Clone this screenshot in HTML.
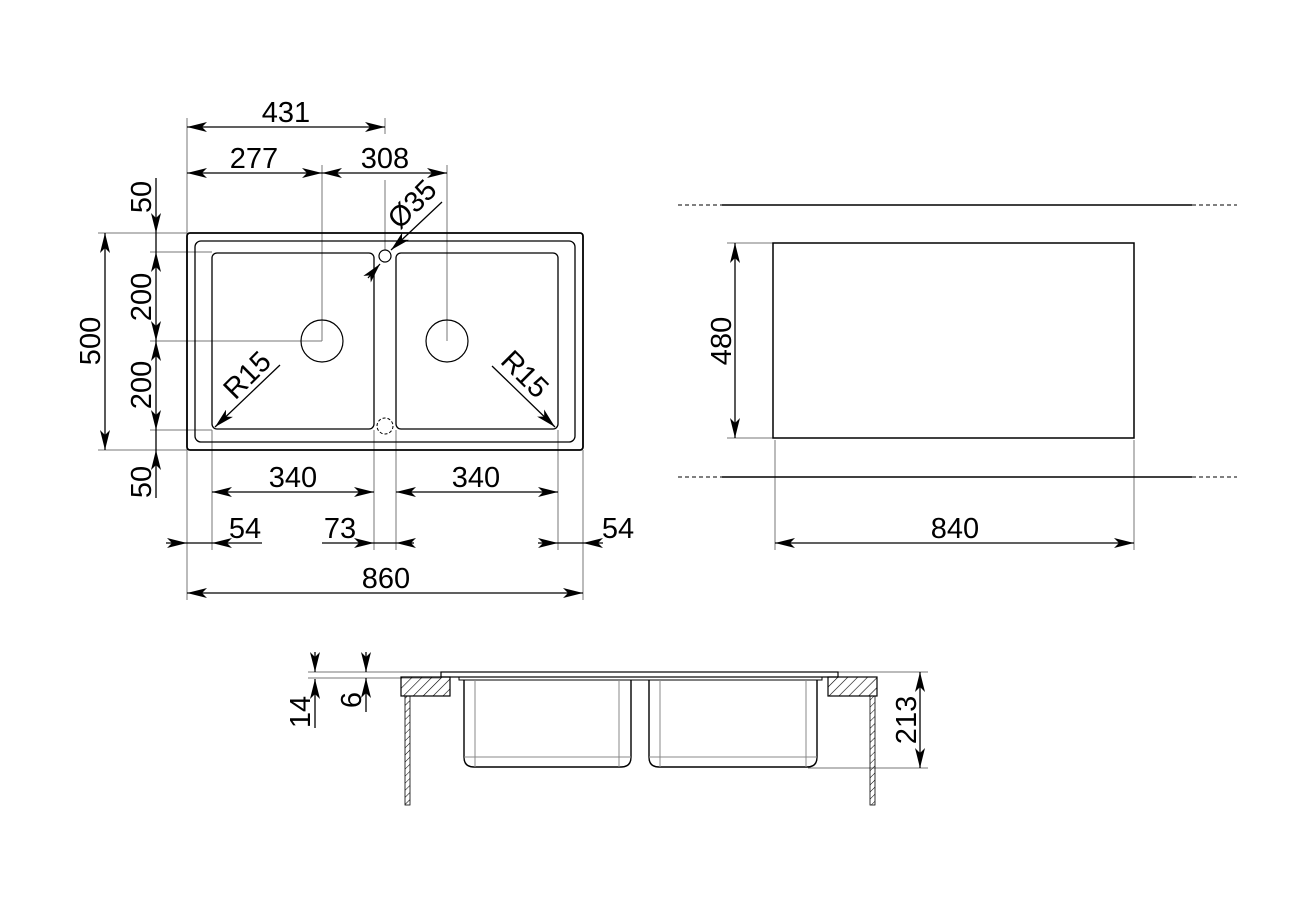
<!DOCTYPE html>
<html><head><meta charset="utf-8"><style>
html,body{margin:0;padding:0;background:#fff;}
svg{display:block;}
text{font-family:"Liberation Sans",Arial,sans-serif;font-size:29px;fill:#000;}
</style></head><body>
<svg width="1300" height="900" viewBox="0 0 1300 900" xmlns="http://www.w3.org/2000/svg">
<defs>
<marker id="a" viewBox="0 0 20 10" refX="20" refY="5" markerWidth="20" markerHeight="10" markerUnits="userSpaceOnUse" orient="auto-start-reverse">
<path d="M0,0 L20,5 L0,10 L5,5 Z" fill="#000"/>
</marker>
<pattern id="h" width="7" height="7" patternUnits="userSpaceOnUse" patternTransform="rotate(45)">
<line x1="0" y1="0" x2="0" y2="7" stroke="#000" stroke-width="1.2"/>
</pattern>
<pattern id="w" width="5" height="5" patternUnits="userSpaceOnUse" patternTransform="rotate(45)">
<line x1="0" y1="0" x2="0" y2="5" stroke="#000" stroke-width="1"/>
</pattern>
</defs>

<g stroke="#777" stroke-width="1" fill="none">
<line x1="187" y1="118" x2="187" y2="600"/>
<line x1="385" y1="118" x2="385" y2="134"/>
<line x1="322" y1="165" x2="322" y2="341"/>
<line x1="447" y1="165" x2="447" y2="341"/>
<line x1="385" y1="180" x2="385" y2="250"/>
<line x1="150" y1="341" x2="322" y2="341"/>
<line x1="98" y1="233" x2="187" y2="233"/>
<line x1="98" y1="450" x2="187" y2="450"/>
<line x1="150" y1="252" x2="212" y2="252"/>
<line x1="150" y1="430" x2="212" y2="430"/>
<line x1="212" y1="430" x2="212" y2="550"/>
<line x1="374" y1="430" x2="374" y2="550"/>
<line x1="396" y1="430" x2="396" y2="550"/>
<line x1="558" y1="430" x2="558" y2="550"/>
<line x1="583" y1="450" x2="583" y2="600"/>
<line x1="727" y1="243" x2="773" y2="243"/>
<line x1="727" y1="438" x2="773" y2="438"/>
<line x1="775" y1="440" x2="775" y2="550"/>
<line x1="1134" y1="440" x2="1134" y2="550"/>
<line x1="308" y1="672" x2="441" y2="672"/>
<line x1="308" y1="678" x2="441" y2="678"/>
<line x1="838" y1="672" x2="928" y2="672"/>
<line x1="808" y1="768" x2="928" y2="768"/>
</g>

<g stroke="#000" fill="none">
<rect x="187" y="233" width="396" height="217" rx="3" stroke-width="1.8"/>
<rect x="195" y="241" width="380" height="201" rx="6" stroke-width="1.3"/>
<rect x="212" y="253" width="162" height="176" rx="5" stroke-width="1.3"/>
<rect x="396" y="253" width="162" height="176" rx="5" stroke-width="1.3"/>
<circle cx="385" cy="256" r="6" stroke-width="1.2"/>
<circle cx="322" cy="341" r="21" stroke-width="1.2"/>
<circle cx="447" cy="341" r="21" stroke-width="1.2"/>
<circle cx="385" cy="426" r="8" stroke-width="1" stroke-dasharray="3,2"/>
</g>

<g stroke="#000" stroke-width="1.3" fill="none">
<line x1="187" y1="127" x2="385" y2="127" marker-start="url(#a)" marker-end="url(#a)"/>
<line x1="187" y1="173" x2="322" y2="173" marker-start="url(#a)" marker-end="url(#a)"/>
<line x1="322" y1="173" x2="447" y2="173" marker-start="url(#a)" marker-end="url(#a)"/>
<line x1="442" y1="202" x2="391" y2="250" marker-end="url(#a)"/>
<line x1="368" y1="278" x2="380" y2="264" marker-end="url(#a)"/>
<line x1="105" y1="233" x2="105" y2="450" marker-start="url(#a)" marker-end="url(#a)"/>
<line x1="156" y1="178" x2="156" y2="233" marker-end="url(#a)"/>
<line x1="156" y1="252" x2="156" y2="341" marker-start="url(#a)" marker-end="url(#a)"/>
<line x1="156" y1="341" x2="156" y2="430" marker-start="url(#a)" marker-end="url(#a)"/>
<line x1="156" y1="233" x2="156" y2="252"/>
<line x1="156" y1="430" x2="156" y2="450"/>
<line x1="156" y1="498" x2="156" y2="450" marker-end="url(#a)"/>
<line x1="280" y1="365" x2="215" y2="427" marker-end="url(#a)"/>
<line x1="492" y1="366" x2="555" y2="427" marker-end="url(#a)"/>
<line x1="212" y1="492" x2="374" y2="492" marker-start="url(#a)" marker-end="url(#a)"/>
<line x1="396" y1="492" x2="558" y2="492" marker-start="url(#a)" marker-end="url(#a)"/>
<line x1="166" y1="543" x2="187" y2="543" marker-end="url(#a)"/>
<line x1="262" y1="543" x2="212" y2="543" marker-end="url(#a)"/>
<line x1="187" y1="543" x2="212" y2="543"/>
<line x1="322" y1="543" x2="374" y2="543" marker-end="url(#a)"/>
<line x1="414" y1="543" x2="396" y2="543" marker-end="url(#a)"/>
<line x1="374" y1="543" x2="396" y2="543"/>
<line x1="538" y1="543" x2="558" y2="543" marker-end="url(#a)"/>
<line x1="603" y1="543" x2="583" y2="543" marker-end="url(#a)"/>
<line x1="558" y1="543" x2="583" y2="543"/>
<line x1="187" y1="593" x2="583" y2="593" marker-start="url(#a)" marker-end="url(#a)"/>
<line x1="735" y1="243" x2="735" y2="438" marker-start="url(#a)" marker-end="url(#a)"/>
<line x1="775" y1="543" x2="1134" y2="543" marker-start="url(#a)" marker-end="url(#a)"/>
<line x1="920" y1="672" x2="920" y2="768" marker-start="url(#a)" marker-end="url(#a)"/>
<line x1="315" y1="652" x2="315" y2="672" marker-end="url(#a)"/>
<line x1="315" y1="728" x2="315" y2="679" marker-end="url(#a)"/>
<line x1="366" y1="652" x2="366" y2="672" marker-end="url(#a)"/>
<line x1="366" y1="712" x2="366" y2="678" marker-end="url(#a)"/>
</g>

<g stroke="#000" fill="none">
<rect x="773" y="243" width="361" height="195" stroke-width="1.5"/>
<line x1="722" y1="205" x2="1192" y2="205" stroke-width="1.5"/>
<line x1="722" y1="477" x2="1192" y2="477" stroke-width="1.5"/>
<line x1="678" y1="205" x2="722" y2="205" stroke-width="1" stroke-dasharray="4,3"/>
<line x1="1192" y1="205" x2="1237" y2="205" stroke-width="1" stroke-dasharray="4,3"/>
<line x1="678" y1="477" x2="722" y2="477" stroke-width="1" stroke-dasharray="4,3"/>
<line x1="1192" y1="477" x2="1237" y2="477" stroke-width="1" stroke-dasharray="4,3"/>
</g>

<g stroke="#000" fill="none" stroke-width="1.2">
<rect x="401" y="677" width="49" height="19" fill="url(#h)"/>
<rect x="828" y="677" width="49" height="19" fill="url(#h)"/>
<rect x="405" y="696" width="5" height="109" fill="url(#w)" stroke-width="0.8"/>
<rect x="870" y="696" width="5" height="109" fill="url(#w)" stroke-width="0.8"/>
<rect x="441" y="672" width="397" height="5" stroke-width="1.2"/>
<rect x="459" y="677" width="363" height="3" stroke-width="1"/>
<path d="M464,680 V757 Q464,767 474,767 H621 Q631,767 631,757 V680" stroke-width="1.4"/>
<path d="M649,680 V757 Q649,767 659,767 H807 Q817,767 817,757 V680" stroke-width="1.4"/>
</g>
<g stroke="#888" stroke-width="1" fill="none">
<line x1="475" y1="680" x2="475" y2="767"/>
<line x1="619" y1="680" x2="619" y2="767"/>
<line x1="464" y1="757" x2="631" y2="757"/>
<line x1="660" y1="680" x2="660" y2="767"/>
<line x1="806" y1="680" x2="806" y2="767"/>
<line x1="649" y1="757" x2="817" y2="757"/>
</g>

<text x="286" y="122" text-anchor="middle">431</text>
<text x="254" y="168" text-anchor="middle">277</text>
<text x="385" y="168" text-anchor="middle">308</text>
<text x="293" y="487" text-anchor="middle">340</text>
<text x="476" y="487" text-anchor="middle">340</text>
<text x="245" y="538" text-anchor="middle">54</text>
<text x="340" y="538" text-anchor="middle">73</text>
<text x="618" y="538" text-anchor="middle">54</text>
<text x="386" y="588" text-anchor="middle">860</text>
<text x="955" y="538" text-anchor="middle">840</text>
<text transform="translate(151,197) rotate(-90)" text-anchor="middle">50</text>
<text transform="translate(151,297) rotate(-90)" text-anchor="middle">200</text>
<text transform="translate(151,385) rotate(-90)" text-anchor="middle">200</text>
<text transform="translate(151,482) rotate(-90)" text-anchor="middle">50</text>
<text transform="translate(100,341) rotate(-90)" text-anchor="middle">500</text>
<text transform="translate(731,341) rotate(-90)" text-anchor="middle">480</text>
<text transform="translate(916,720) rotate(-90)" text-anchor="middle">213</text>
<text transform="translate(310,712) rotate(-90)" text-anchor="middle">14</text>
<text transform="translate(361,700) rotate(-90)" text-anchor="middle">6</text>
<text transform="translate(419,211) rotate(-45)" text-anchor="middle">Ø35</text>
<text transform="translate(254,382) rotate(-45)" text-anchor="middle">R15</text>
<text transform="translate(518,381) rotate(45)" text-anchor="middle">R15</text>
</svg>
</body></html>
